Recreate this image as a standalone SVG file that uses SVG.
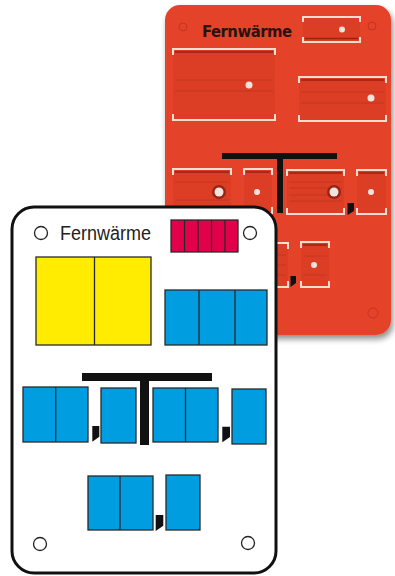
<svg xmlns="http://www.w3.org/2000/svg" width="395" height="576" viewBox="0 0 395 576">
<defs>
<filter id="sh" x="-10%" y="-10%" width="130%" height="130%">
<feGaussianBlur in="SourceAlpha" stdDeviation="3"/>
<feOffset dx="2" dy="4" result="b"/>
<feComponentTransfer><feFuncA type="linear" slope="0.45"/></feComponentTransfer>
<feMerge><feMergeNode/><feMergeNode in="SourceGraphic"/></feMerge>
</filter>
<style>
.slot{fill:#dc3e25}
.slotline{stroke:#bf321c;stroke-width:0.8;fill:none}
.slottop{stroke:#9a2312;stroke-width:1.5;fill:none}
.brk{stroke:#f6ddd0;stroke-width:2;fill:none}
.dot{fill:#f1e4de}
.ring{fill:#9a2414}
.hole{fill:none;stroke:#b52f1b;stroke-width:1;opacity:0.7}
.blk{fill:#111}
.cell{stroke:#2a2a2a;stroke-width:1.3}
.div{stroke:#2a2a2a;stroke-width:1.3}
.blue{fill:#009ee0}
.circ{fill:#fff;stroke:#222;stroke-width:1.3}
</style>
</defs>

<g id="red-plate">
<rect x="165" y="5" width="226" height="330" rx="15" fill="#e5432a" filter="url(#sh)"/>
<circle class="hole" cx="183" cy="27" r="4"/>
<circle class="hole" cx="372" cy="26" r="4"/>
<circle class="hole" cx="373" cy="313" r="5"/>
<text x="202" y="37" font-family="'DejaVu Sans Condensed', 'DejaVu Sans', sans-serif" font-size="16.5" font-weight="600" fill="#2a1210" textLength="90" lengthAdjust="spacing">Fernwärme</text>

<!-- top small slot -->
<rect class="slot" x="303" y="17" width="57" height="25"/>
<path class="slottop" d="M305 38.5H358"/>
<path class="brk" d="M303 22V17H360V22M303 37V42H360V37"/>
<circle class="dot" cx="342" cy="29.5" r="3"/>

<!-- big left slot -->
<rect class="slot" x="173" y="49" width="102" height="71"/>
<path class="slottop" d="M175 52H273"/>
<path class="slotline" d="M175 80H273M175 91H273"/>
<path class="brk" d="M173 55V49H275V55M173 114V120H275V114"/>
<circle class="dot" cx="249" cy="85" r="3.5"/>

<!-- right slot -->
<rect class="slot" x="299" y="77" width="87" height="44"/>
<path class="slottop" d="M301 80H384"/>
<path class="slotline" d="M301 92H384M301 103H384"/>
<path class="brk" d="M299 83V77H386V83M299 115V121H386V115"/>
<circle class="dot" cx="371" cy="98" r="3.5"/>

<!-- T on red -->
<rect class="blk" x="222" y="153" width="115" height="6"/>
<rect class="blk" x="277" y="159" width="6" height="54"/>

<!-- row 2 slots -->
<rect class="slot" x="173" y="169" width="58" height="44"/>
<path class="slottop" d="M175 172H229"/>
<path class="slotline" d="M175 182H229M175 200H229"/>
<path class="brk" d="M173 175V169H231V175M173 207V213H231V207"/>
<circle class="ring" cx="219" cy="192" r="7"/>
<circle class="dot" cx="219" cy="192" r="4.5"/>

<rect class="slot" x="244" y="169" width="28" height="44"/>
<path class="slottop" d="M246 172H270"/>
<path class="brk" d="M244 175V169H272V175M244 207V213H272V207"/>
<circle class="dot" cx="257" cy="192" r="3"/>

<rect class="slot" x="287" y="170" width="57" height="44"/>
<path class="slottop" d="M289 173H342"/>
<path class="slotline" d="M289 182H342M289 188H342M289 195H342M289 201H342"/>
<path class="brk" d="M287 176V170H344V176M287 208V214H344V208"/>
<circle class="ring" cx="334" cy="192" r="7"/>
<circle class="dot" cx="334" cy="192" r="4.5"/>

<polygon class="blk" points="347.5,203 354,203 354,211 347.5,215"/>

<rect class="slot" x="357" y="170" width="29" height="44"/>
<path class="slottop" d="M359 173H384"/>
<path class="brk" d="M357 176V170H386V176M357 208V214H386V208"/>
<circle class="dot" cx="371" cy="192" r="3"/>

<!-- row 3 slots -->
<rect class="slot" x="232" y="243" width="56" height="44"/>
<path class="slotline" d="M234 255H286M234 265H286M234 275H286"/>
<path class="brk" d="M232 249V243H288V249M232 281V287H288V281"/>
<polygon class="blk" points="290.5,276 296,276 296,283 290.5,287"/>
<rect class="slot" x="301" y="242" width="28" height="45"/>
<path class="slottop" d="M303 245H327"/>
<path class="slotline" d="M303 256H327M303 275H327"/>
<path class="brk" d="M301 248V242H329V248M301 281V287H329V281"/>
<circle class="dot" cx="314" cy="265" r="3"/>
</g>

<g id="white-plate">
<rect x="12" y="207" width="264" height="366" rx="22" fill="#fff" stroke="#111" stroke-width="3"/>
<circle class="circ" cx="41" cy="233" r="6.5"/>
<circle class="circ" cx="250" cy="233" r="6.5"/>
<circle class="circ" cx="40" cy="544" r="6.5"/>
<circle class="circ" cx="248" cy="543" r="6.5"/>
<text x="60" y="240" font-family="'Liberation Sans', Arial, sans-serif" font-size="19.5" fill="#222" textLength="91" lengthAdjust="spacingAndGlyphs">Fernwärme</text>
</g>

<g id="digits-red">
<rect class="cell" x="171" y="220" width="67" height="32" fill="#e2004b"/>
<path class="div" d="M184.5 220V252M198 220V252M211.5 220V252M225 220V252"/>
</g>

<g id="digits-yellow">
<rect class="cell" x="36" y="257" width="115" height="88" fill="#ffec00"/>
<path class="div" d="M94.5 257V345"/>
</g>

<g id="digits-blue-top">
<rect class="cell blue" x="165" y="290" width="102" height="55"/>
<path class="div" d="M199 290V345M235 290V345"/>
</g>

<g id="t-bar">
<rect class="blk" x="82" y="373" width="130" height="8"/>
<rect class="blk" x="140" y="381" width="9" height="64"/>
</g>

<g id="row2-left">
<rect class="cell blue" x="23" y="387" width="65" height="55"/>
<path class="div" d="M55.7 387V442"/>
<polygon class="blk" points="92.3,426 99.3,426 99.3,436.7 92.3,441.7"/>
<rect class="cell blue" x="101" y="388" width="35" height="55"/>
</g>

<g id="row2-right">
<rect class="cell blue" x="153" y="388" width="65" height="54"/>
<path class="div" d="M185.5 388V442"/>
<polygon class="blk" points="222.3,426.7 230,426.7 230,437 222.3,442.3"/>
<rect class="cell blue" x="232" y="389" width="34" height="55"/>
</g>

<g id="row3">
<rect class="cell blue" x="88" y="476" width="65" height="54"/>
<path class="div" d="M120 476V530"/>
<polygon class="blk" points="155.7,515 163.3,515 163.3,525.7 155.7,531"/>
<rect class="cell blue" x="166" y="475" width="34" height="55"/>
</g>
</svg>
